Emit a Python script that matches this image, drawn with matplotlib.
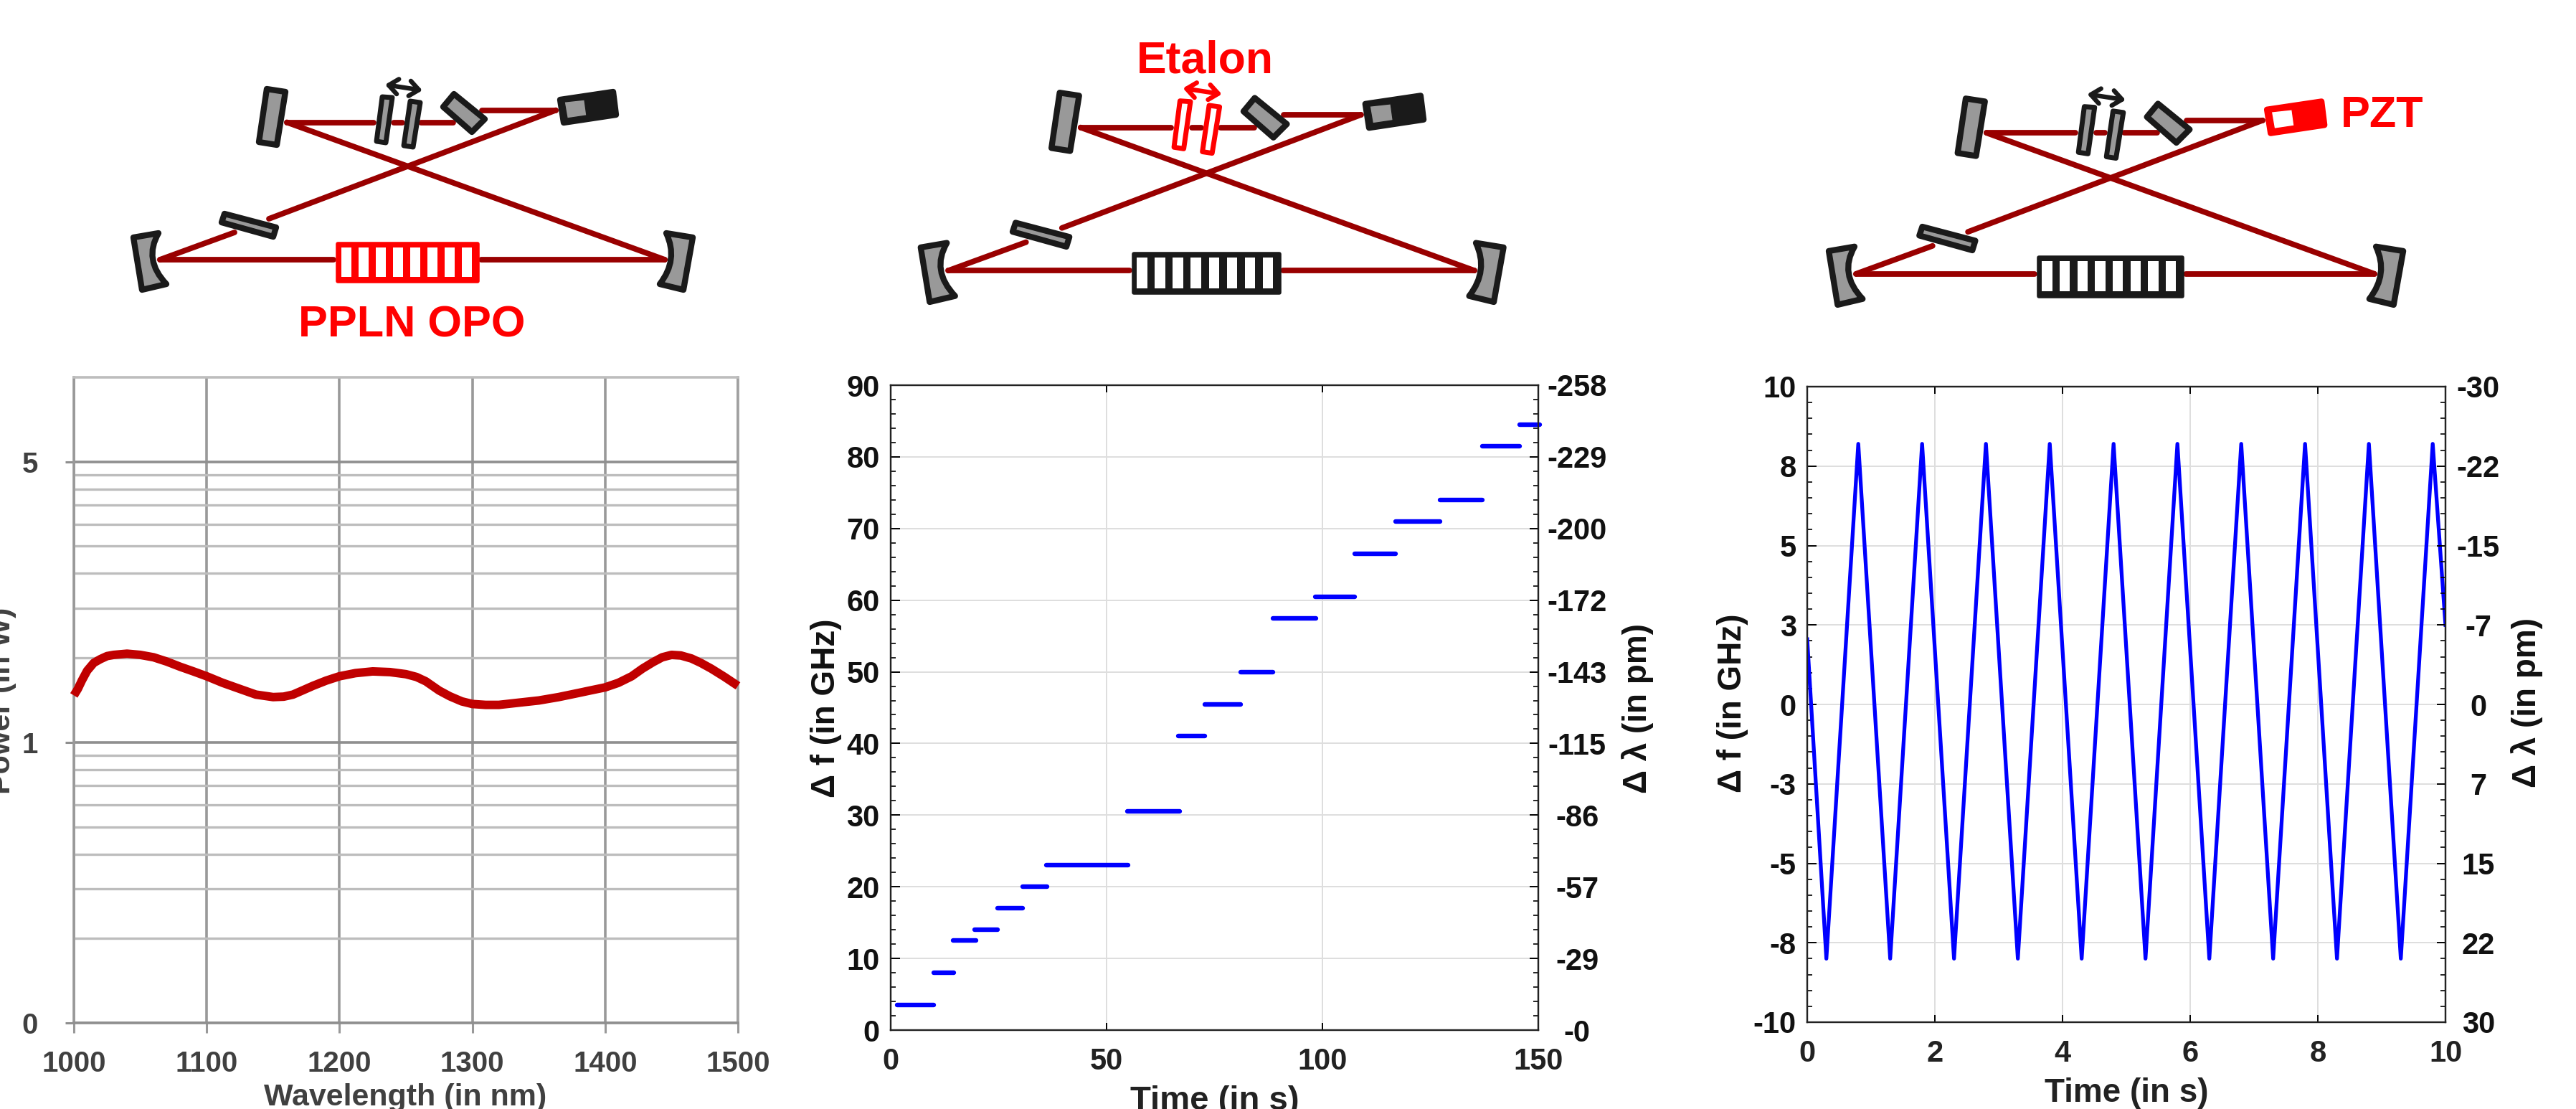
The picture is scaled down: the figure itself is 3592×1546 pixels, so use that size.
import matplotlib
matplotlib.use("Agg")
import matplotlib.pyplot as plt
from matplotlib.patches import Polygon, PathPatch, FancyArrowPatch
from matplotlib.path import Path
from matplotlib.ticker import MultipleLocator, FixedLocator, NullFormatter

plt.rcParams['font.family'] = ['Liberation Sans', 'DejaVu Sans']
plt.rcParams['font.weight'] = 'bold'
plt.rcParams['axes.labelweight'] = 'bold'

W, H = 3592, 1546
DPI = 100

# ---------- data ----------
wavelength = [1000, 1003, 1006, 1010, 1015, 1020, 1025, 1030, 1040, 1050, 1060, 1070, 1080, 1090, 1100, 1112, 1125,
              1137, 1150, 1158, 1165, 1172, 1180, 1190, 1200, 1212, 1225, 1238, 1250, 1258, 1265, 1275, 1283, 1292,
              1300, 1310, 1320, 1335, 1350, 1365, 1380, 1390, 1400, 1410, 1420, 1428, 1436, 1443, 1450, 1457, 1465,
              1472, 1480, 1490, 1500]
power = [1.47, 1.55, 1.66, 1.80, 1.92, 1.98, 2.03, 2.05, 2.07, 2.05, 2.01, 1.94, 1.86, 1.79, 1.72, 1.63, 1.55,
         1.48, 1.45, 1.455, 1.48, 1.53, 1.59, 1.66, 1.72, 1.765, 1.79, 1.78, 1.75, 1.71, 1.65, 1.53, 1.46, 1.40,
         1.37, 1.36, 1.36, 1.385, 1.41, 1.45, 1.50, 1.535, 1.57, 1.63, 1.72, 1.83, 1.93, 2.01, 2.05, 2.04, 1.99,
         1.92, 1.83, 1.71, 1.59]
power_ticks = [0.1, 1, 10]
power_labels = ['0', '1', '5']
power_minor = [0.2, 0.3, 0.4, 0.5, 0.6, 0.7, 0.8, 0.9, 2, 3, 4, 5, 6, 7, 8, 9]
wl_ticks = [1000, 1100, 1200, 1300, 1400, 1500]

step_start = [1.5, 10, 14.5, 19.5, 24.7, 30.6, 36, 54.8, 66.6, 72.7, 81.1, 88.6, 98.3, 107.4, 117, 127.2, 137, 145.7]
step_end = [10, 14.6, 19.7, 24.8, 30.6, 36.2, 55, 66.9, 72.8, 81.1, 88.6, 98.5, 107.4, 117, 127.2, 137, 145.7, 150.3]
step_freq = [3.5, 8, 12.5, 14, 17, 20, 23, 30.5, 41, 45.5, 50, 57.5, 60.5, 66.5, 71, 74, 81.5, 84.5]
mid_yticks = [0, 10, 20, 30, 40, 50, 60, 70, 80, 90]
mid_rlabels = ['-0', '-29', '-57', '-86', '-115', '-143', '-172', '-200', '-229', '-258']
mid_xticks = [0, 50, 100, 150]

pzt_time = [0, 0.3, 0.8, 1.3, 1.8, 2.3, 2.8, 3.3, 3.8, 4.3, 4.8, 5.3, 5.8, 6.3, 6.8, 7.3, 7.8, 8.3, 8.8, 9.3, 9.8, 10]
pzt_freq = [2.05, -8.0, 8.2, -8.0, 8.2, -8.0, 8.2, -8.0, 8.2, -8.0, 8.2, -8.0, 8.2, -8.0, 8.2, -8.0, 8.2, -8.0, 8.2, -8.0, 8.2, 2.5]
pzt_yticks = [-10, -7.5, -5, -2.5, 0, 2.5, 5, 7.5, 10]
pzt_ylabels = ['-10', '-8', '-5', '-3', '0', '3', '5', '8', '10']
pzt_rlabels = ['30', '22', '15', '7', '0', '-7', '-15', '-22', '-30']
pzt_xticks = [0, 2, 4, 6, 8, 10]

# ---------- figure ----------
fig = plt.figure(figsize=(W / DPI, H / DPI), dpi=DPI, facecolor='white')


def add_axes(l, t, r, b):
    return fig.add_axes([l / W, 1 - b / H, (r - l) / W, (b - t) / H])


ov = fig.add_axes([0, 0, 1, 1], zorder=5)
ov.set_xlim(0, W)
ov.set_ylim(H, 0)
ov.axis('off')
ov.patch.set_alpha(0)

# ---------- left panel ----------
GREY = '#404040'
ax1 = add_axes(103, 526, 1029, 1426)
ax1.set_yscale('log')
ax1.set_xlim(1000, 1500)
ax1.set_ylim(0.1, 20)
ax1.yaxis.set_major_locator(FixedLocator(power_ticks))
ax1.set_yticklabels(power_labels)
ax1.yaxis.set_minor_locator(FixedLocator(power_minor))
ax1.yaxis.set_minor_formatter(NullFormatter())
ax1.set_xticks(wl_ticks)
ax1.grid(True, which='major', axis='x', color='#999999', lw=2.6)
ax1.grid(True, which='major', axis='y', color='#8f8f8f', lw=2.6)
ax1.grid(True, which='minor', axis='y', color='#bdbdbd', lw=2.4)
ax1.set_axisbelow(True)
ax1.tick_params(axis='y', which='major', length=9, width=2.2, color='#8f8f8f', pad=27, labelsize=29, labelcolor=GREY)
ax1.tick_params(axis='y', which='minor', length=0)
ax1.tick_params(axis='x', length=10, width=2.2, color='#999999', pad=17, labelsize=29, labelcolor=GREY)
for side, col in [('left', '#999999'), ('right', '#a0a0a0'), ('top', '#bdbdbd'), ('bottom', '#8f8f8f')]:
    ax1.spines[side].set_color(col)
    ax1.spines[side].set_linewidth(2.6)
ax1.plot(wavelength, power, color='#c00000', lw=8.6, solid_joinstyle='round', solid_capstyle='butt', zorder=4, clip_on=False)
ax1.set_xlabel('Wavelength (in nm)', fontsize=31, color=GREY, va='center', ha='center')
ax1.xaxis.set_label_coords(565, 1530, transform=ov.transData)
ax1.set_ylabel('Power (in W)', fontsize=31, color=GREY, va='center', ha='center')
ax1.yaxis.set_label_coords(3, 977, transform=ov.transData)


def style_matlab(ax, rax, ylim, yticks, ylabels, rlabels, xticks, xlim, rpad, lw_grid=1.4):
    ax.set_xlim(*xlim)
    ax.set_ylim(*ylim)
    ax.set_xticks(xticks)
    ax.set_yticks(yticks)
    ax.set_yticklabels(ylabels)
    ax.grid(True, color='#dedede', lw=lw_grid)
    ax.set_axisbelow(True)
    ax.tick_params(axis='x', direction='in', length=7, width=1.4, pad=17, labelsize=30, top=True, labelcolor='#222222')
    ax.tick_params(axis='y', which='major', direction='in', length=9, width=1.4, pad=11, labelsize=30, labelcolor='#111111')
    ax.tick_params(axis='y', which='minor', direction='in', length=5, width=1.2)
    rax.set_ylim(*ylim)
    rax.set_yticks(yticks)
    rax.set_yticklabels(rlabels, ha='center')
    rax.tick_params(axis='y', which='major', direction='in', length=9, width=1.4, pad=rpad, labelsize=30, labelcolor='#111111')
    rax.tick_params(axis='y', which='minor', direction='in', length=5, width=1.2)
    for a in (ax, rax):
        for s in a.spines.values():
            s.set_linewidth(1.6)
            s.set_color('#222222')


# ---------- middle panel ----------
ax2 = add_axes(1242, 537, 2145, 1436)
ax2r = ax2.twinx()
style_matlab(ax2, ax2r, (0, 90), mid_yticks, [str(v) for v in mid_yticks], mid_rlabels, mid_xticks, (0, 150), 39)
ax2.yaxis.set_minor_locator(MultipleLocator(2))
ax2r.yaxis.set_minor_locator(MultipleLocator(2))
for t0, t1, f in zip(step_start, step_end, step_freq):
    ax2.plot([t0, t1], [f, f], color='#0000ff', lw=4.6, solid_capstyle='round', clip_on=False, zorder=4)
ax2.set_xlabel('Time (in s)', fontsize=34, color='#222222', va='center', ha='center')
ax2.xaxis.set_label_coords(1694, 1535, transform=ov.transData)
ax2.set_ylabel('Δ f (in GHz)', fontsize=33, color='#111111', va='center', ha='center')
ax2.yaxis.set_label_coords(1152, 987, transform=ov.transData)
ax2r.set_ylabel('Δ λ (in pm)', fontsize=33, color='#111111', va='center', ha='center')
ax2r.yaxis.set_label_coords(2283, 987, transform=ov.transData)

# ---------- right panel ----------
ax3 = add_axes(2520, 539, 3410, 1425)
ax3r = ax3.twinx()
style_matlab(ax3, ax3r, (-10, 10), pzt_yticks, pzt_ylabels, pzt_rlabels, pzt_xticks, (0, 10), 33)
ax3.yaxis.set_minor_locator(MultipleLocator(0.5))
ax3r.yaxis.set_minor_locator(MultipleLocator(0.5))
ax3.plot(pzt_time, pzt_freq, color='#0000ff', lw=3.8, solid_joinstyle='round', zorder=4)
ax3.set_xlabel('Time (in s)', fontsize=33, color='#222222', va='center', ha='center')
ax3.xaxis.set_label_coords(2965, 1524, transform=ov.transData)
ax3.set_ylabel('Δ f (in GHz)', fontsize=33, color='#111111', va='center', ha='center')
ax3.yaxis.set_label_coords(2416, 980, transform=ov.transData)
ax3r.set_ylabel('Δ λ (in pm)', fontsize=33, color='#111111', va='center', ha='center')
ax3r.yaxis.set_label_coords(3524, 980, transform=ov.transData)

# ---------- cavity schematics ----------
BEAM = '#990000'
BLK = '#1a1a1a'
RED = '#ff0000'
FILL = '#999999'


def cavity(s, tx, ty, crystal=BLK, etalon=BLK, pzt=BLK):
    T = lambda pts: [(s * x + tx, s * y + ty) for x, y in pts]
    beams = [[(223, 362), (465, 362)], [(671, 362), (927, 362)], [(927, 362), (400, 170.5)],
             [(400, 170.5), (521, 170.5)], [(549, 170.5), (561, 170.5)], [(587, 170.5), (632, 170.5)],
             [(672, 153.6), (775, 153.6)], [(775, 153.6), (375, 305)], [(327, 324), (223, 362)]]
    for b in beams:
        p = T(b)
        ov.plot([p[0][0], p[1][0]], [p[0][1], p[1][1]], color=BEAM, lw=5.6, solid_capstyle='round', zorder=2)

    def poly(pts, fc, ec, lw=6):
        ov.add_patch(Polygon(T(pts), closed=True, fc=fc, ec=ec, lw=lw, joinstyle='round', zorder=3))

    # curved mirrors
    for pts in ([(186, 331), (221, 325), (199.5, 362), (232, 396), (198, 404)],
                [(966, 331), (929, 325), (946.5, 362), (920, 396), (953, 404)]):
        v = T(pts) + T(pts[:1])
        codes = [Path.MOVETO, Path.LINETO, Path.CURVE3, Path.CURVE3, Path.LINETO, Path.CLOSEPOLY]
        ov.add_patch(PathPatch(Path(v, codes), fc=FILL, ec=BLK, lw=6, joinstyle='round', zorder=3))

    poly([(372, 124), (398, 128), (386, 202), (361, 198)], FILL, BLK)        # flat mirror
    poly([(633, 131), (676, 166), (658, 184), (618, 149)], FILL, BLK)        # prism
    poly([(313, 298), (385, 317), (381, 330), (309, 310)], FILL, BLK)        # output coupler

    # etalon
    plate_fc = FILL if etalon == BLK else 'white'
    poly([(533, 135), (547, 136), (538, 199), (525, 197)], plate_fc, etalon, 5)
    poly([(572, 141), (586, 143), (576, 205), (563, 203)], plate_fc, etalon, 5)
    a = T([(537, 118), (589, 126)])
    ov.add_patch(FancyArrowPatch(a[0], a[1], arrowstyle='<->,head_length=0.33,head_width=0.27', mutation_scale=28,
                                 color=etalon, lw=4.6, shrinkA=0, shrinkB=0, zorder=3))

    # PZT mirror
    poly([(781, 139), (855, 128), (859, 160), (786, 171)], pzt, pzt)
    poly([(787, 142), (815, 139), (818, 161), (791, 165)], FILL if pzt == BLK else 'white', pzt, 1)

    # crystal
    poly([(471, 340), (666, 340), (666, 392), (471, 392)], crystal, crystal, 4)
    for i in range(8):
        x0 = 475.5 + i * 24.0
        poly([(x0, 345), (x0 + 14, 345), (x0 + 14, 386), (x0, 386)], 'white', 'white', 0)


cavity(1.0, 0, 0, crystal=RED)
cavity(1.042, 1090, 0, etalon=RED)
cavity(1.027, 2359, 10, pzt=RED)

ov.text(574, 469, 'PPLN OPO', color=RED, fontsize=44, ha='center', va='baseline')
ov.text(1680, 101, 'Etalon', color=RED, fontsize=45, ha='center', va='baseline')
ov.text(3322, 177, 'PZT', color=RED, fontsize=44, ha='center', va='baseline')

fig.savefig('out.png', dpi=DPI, facecolor='white')
